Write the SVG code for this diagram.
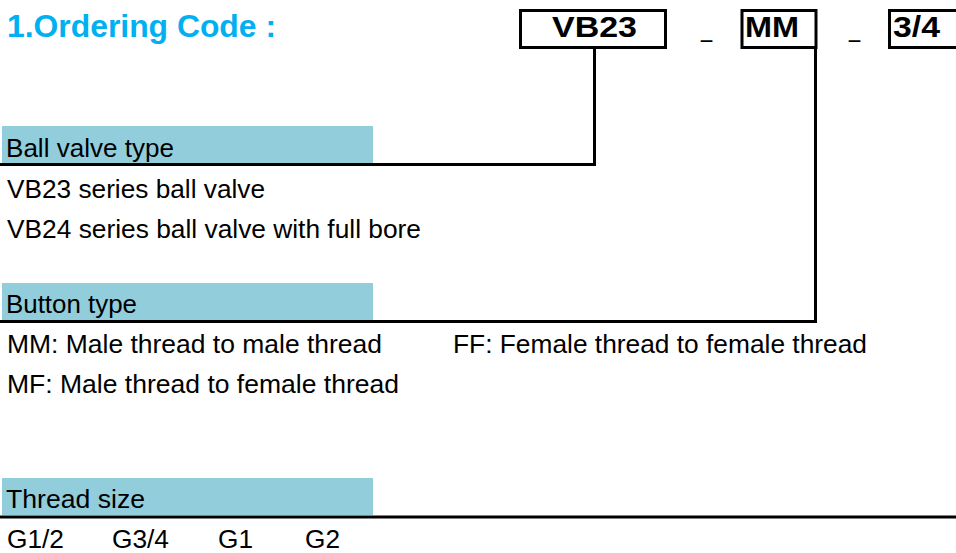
<svg xmlns="http://www.w3.org/2000/svg" width="956" height="553" viewBox="0 0 956 553">
<style>
  text { font-family: "Liberation Sans", Arial, sans-serif; fill: #000; }
  .title { font-size: 31px; font-weight: bold; fill: #00B0F0; }
  .code { font-size: 30px; font-weight: bold; }
  .dash { font-size: 22px; }
  .label { font-size: 25px; }
  .item { font-size: 25px; }
  .box { fill: none; stroke: #000; stroke-width: 3; }
  .band { fill: #92CDDC; }
  .conn { fill: none; stroke: #000; stroke-width: 3; }
</style>
<rect width="956" height="553" fill="#fff"/>
<text class="title" x="7" y="37" textLength="269" lengthAdjust="spacingAndGlyphs">1.Ordering Code :</text>

<g id="code-vb23">
  <rect class="box" x="520.5" y="10.5" width="145" height="37"/>
  <text class="code" x="552" y="37" textLength="85" lengthAdjust="spacingAndGlyphs">VB23</text>
</g>
<text class="dash" x="698.5" y="47" textLength="16" lengthAdjust="spacingAndGlyphs">-</text>
<g id="code-mm">
  <rect class="box" x="742" y="10.5" width="74" height="37"/>
  <text class="code" x="745" y="37" textLength="54" lengthAdjust="spacingAndGlyphs">MM</text>
</g>
<text class="dash" x="846.5" y="47" textLength="16" lengthAdjust="spacingAndGlyphs">-</text>
<g id="code-size">
  <rect class="box" x="889.5" y="10.5" width="100" height="37"/>
  <text class="code" x="893" y="37" textLength="47" lengthAdjust="spacingAndGlyphs">3/4</text>
</g>

<g id="connectors">
  <polyline class="conn" points="594.5,48 594.5,164.5 0,164.5"/>
  <polyline class="conn" points="815.5,48 815.5,321.5 0,321.5"/>
  <line class="conn" x1="0" y1="517" x2="956" y2="517"/>
</g>

<g id="ball-valve-type">
  <rect class="band" x="2" y="126" width="371" height="37"/>
  <text class="label" x="6" y="157" textLength="168" lengthAdjust="spacingAndGlyphs">Ball valve type</text>
  <text class="item" x="7" y="198" textLength="258" lengthAdjust="spacingAndGlyphs">VB23 series ball valve</text>
  <text class="item" x="7" y="238" textLength="414" lengthAdjust="spacingAndGlyphs">VB24 series ball valve with full bore</text>
</g>

<g id="button-type">
  <rect class="band" x="2" y="283" width="371" height="37"/>
  <text class="label" x="6" y="313" textLength="131" lengthAdjust="spacingAndGlyphs">Button type</text>
  <text class="item" x="7" y="353" textLength="375" lengthAdjust="spacingAndGlyphs">MM: Male thread to male thread</text>
  <text class="item" x="453" y="353" textLength="414" lengthAdjust="spacingAndGlyphs">FF: Female thread to female thread</text>
  <text class="item" x="7" y="393" textLength="392" lengthAdjust="spacingAndGlyphs">MF: Male thread to female thread</text>
</g>

<g id="thread-size">
  <rect class="band" x="2" y="478" width="371" height="37"/>
  <text class="label" x="6" y="508" textLength="139" lengthAdjust="spacingAndGlyphs">Thread size</text>
  <text class="item" x="7" y="548" textLength="57" lengthAdjust="spacingAndGlyphs">G1/2</text>
  <text class="item" x="112" y="548" textLength="57" lengthAdjust="spacingAndGlyphs">G3/4</text>
  <text class="item" x="218" y="548" textLength="35" lengthAdjust="spacingAndGlyphs">G1</text>
  <text class="item" x="305" y="548" textLength="35" lengthAdjust="spacingAndGlyphs">G2</text>
</g>
</svg>
